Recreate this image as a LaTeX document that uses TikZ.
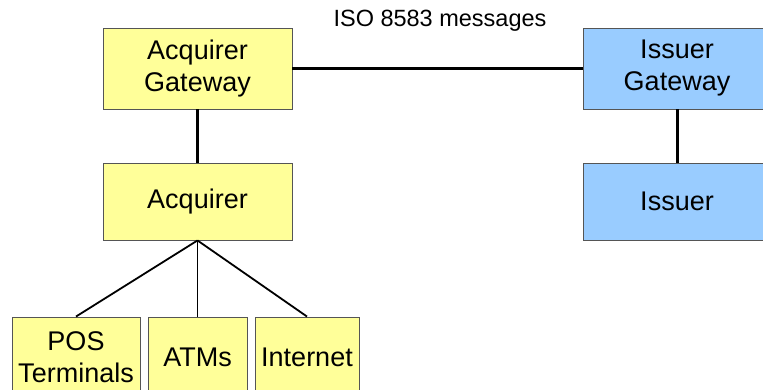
\documentclass[tikz,border=0pt]{standalone}
\usepackage{fontspec}
\setmainfont{Liberation Sans}
\definecolor{boxyellow}{HTML}{FFFF99}
\definecolor{boxblue}{HTML}{99CCFF}
\definecolor{boxedge}{HTML}{555555}
\begin{document}
\begin{tikzpicture}[x=1pt,y=-1pt,
  box/.style={draw=boxedge, line width=0.9pt, rectangle, inner sep=0pt, align=center,
    font=\fontsize{27}{32}\selectfont},
  ybox/.style={box, fill=boxyellow},
  bbox/.style={box, fill=boxblue},
  thickline/.style={line width=3pt},
  thinline/.style={line width=1.8pt}]
\fill[white] (0,0) rectangle (763,389);
\clip (0,0) rectangle (763,389);
\node[ybox, minimum width=189pt, minimum height=81pt] (ag) at (197.5,68.5) {Acquirer\\Gateway};
\node[bbox, minimum width=188pt, minimum height=81pt] (ig) at (677,68.5) {Issuer\\Gateway};
\node[ybox, minimum width=189pt, minimum height=77pt] (acq) at (197.5,201.5) {Acquirer};
\node[bbox, minimum width=188pt, minimum height=77pt] (iss) at (677,201.5) {Issuer};
\node[ybox, minimum width=128pt, minimum height=80pt] (pos) at (76,357) {POS\\Terminals};
\node[ybox, minimum width=99pt, minimum height=80pt] (atm) at (197.5,357) {ATMs};
\node[ybox, minimum width=104pt, minimum height=80pt] (net) at (307,357) {Internet};
\node[font=\fontsize{23.5}{28}\selectfont] (iso) at (440,21) {ISO 8583 messages};
\draw[thickline] (ag.east) -- (ig.west);
\draw[thickline] (ag.south) -- (acq.north);
\draw[thickline] (ig.south) -- (iss.north);
\draw[thinline] (acq.south) -- (pos.north);
\draw[thinline] (acq.south) -- (atm.north);
\draw[thinline] (acq.south) -- (net.north);
\end{tikzpicture}
\end{document}
